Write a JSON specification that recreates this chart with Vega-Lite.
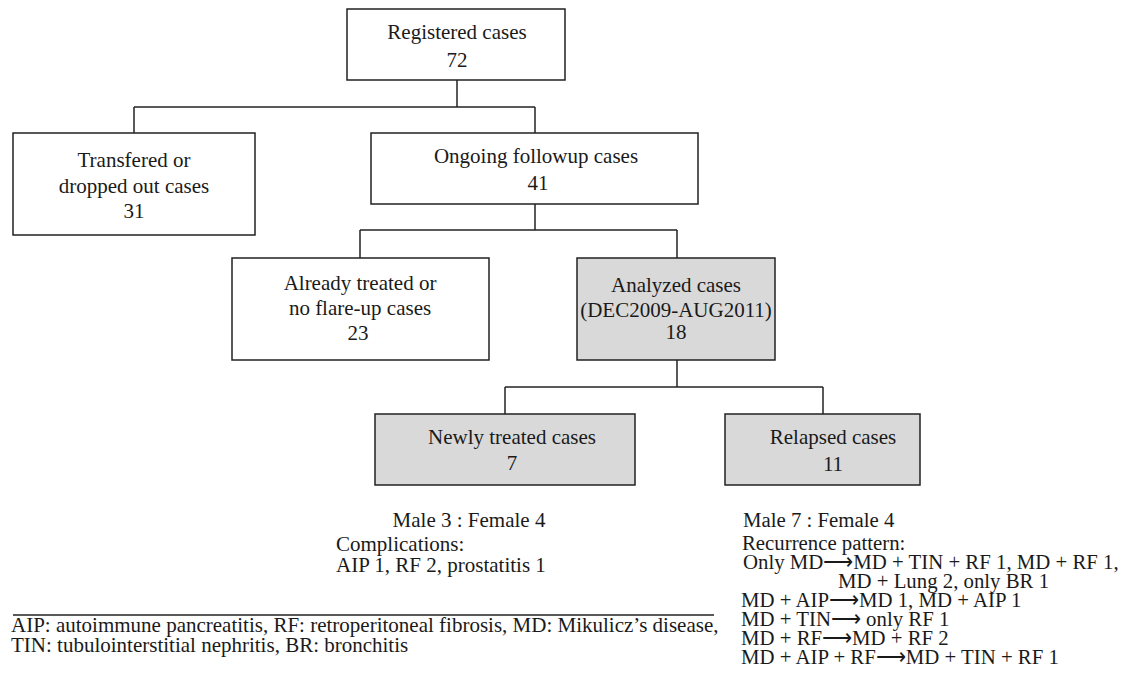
{
  "$schema": "https://vega.github.io/schema/vega-lite/v6.json",
  "width": 1126,
  "height": 691,
  "padding": 0,
  "autosize": {"type": "none"},
  "background": "#ffffff",
  "config": {"view": {"stroke": null}},
  "datasets": {
    "boxes": [
      {"name": "Registered", "x1": 347, "x2": 565, "y1": 9, "y2": 80, "kind": "plain"},
      {"name": "Transfered", "x1": 13, "x2": 255, "y1": 133, "y2": 235, "kind": "plain"},
      {"name": "Ongoing", "x1": 371, "x2": 698, "y1": 133, "y2": 204, "kind": "plain"},
      {"name": "Already", "x1": 232, "x2": 489, "y1": 258, "y2": 360, "kind": "plain"},
      {"name": "Analyzed", "x1": 577, "x2": 775, "y1": 258, "y2": 360, "kind": "shaded"},
      {"name": "Newly", "x1": 375, "x2": 635, "y1": 414, "y2": 485, "kind": "shaded"},
      {"name": "Relapsed", "x1": 725, "x2": 920, "y1": 414, "y2": 485, "kind": "shaded"}
    ],
    "links": [
      {"x1": 457, "x2": 457, "y1": 80, "y2": 107},
      {"x1": 134, "x2": 535, "y1": 107, "y2": 107},
      {"x1": 134, "x2": 134, "y1": 107, "y2": 133},
      {"x1": 535, "x2": 535, "y1": 107, "y2": 133},
      {"x1": 535, "x2": 535, "y1": 204, "y2": 230},
      {"x1": 360, "x2": 677, "y1": 230, "y2": 230},
      {"x1": 360, "x2": 360, "y1": 230, "y2": 258},
      {"x1": 677, "x2": 677, "y1": 230, "y2": 258},
      {"x1": 677, "x2": 677, "y1": 360, "y2": 387},
      {"x1": 505, "x2": 823, "y1": 387, "y2": 387},
      {"x1": 505, "x2": 505, "y1": 387, "y2": 414},
      {"x1": 823, "x2": 823, "y1": 387, "y2": 414},
      {"x1": 13, "x2": 714, "y1": 615, "y2": 615}
    ],
    "labels": [
      {"t": "Registered cases", "x": 457, "y": 39, "a": "c"},
      {"t": "72", "x": 457, "y": 67, "a": "c"},
      {"t": "Transfered or", "x": 134, "y": 167, "a": "c"},
      {"t": "dropped out cases", "x": 134, "y": 193, "a": "c"},
      {"t": "31", "x": 134, "y": 218, "a": "c"},
      {"t": "Ongoing followup cases", "x": 536, "y": 163, "a": "c"},
      {"t": "41", "x": 538, "y": 190, "a": "c"},
      {"t": "Already treated or", "x": 360, "y": 290, "a": "c"},
      {"t": "no flare-up cases", "x": 360, "y": 315, "a": "c"},
      {"t": "23", "x": 358, "y": 340, "a": "c"},
      {"t": "Analyzed cases", "x": 676, "y": 292, "a": "c"},
      {"t": "(DEC2009-AUG2011)", "x": 676, "y": 317, "a": "c"},
      {"t": "18", "x": 676, "y": 339, "a": "c"},
      {"t": "Newly treated cases", "x": 512, "y": 444, "a": "c"},
      {"t": "7", "x": 512, "y": 470, "a": "c"},
      {"t": "Relapsed cases", "x": 833, "y": 444, "a": "c"},
      {"t": "11", "x": 833, "y": 471, "a": "c"},
      {"t": "Male 3 : Female 4", "x": 469, "y": 527, "a": "c"},
      {"t": "Complications:", "x": 336, "y": 551, "a": "l"},
      {"t": "AIP 1, RF 2, prostatitis 1", "x": 336, "y": 572, "a": "l"},
      {"t": "Male 7 : Female 4", "x": 743, "y": 527, "a": "r"},
      {"t": "Recurrence pattern:", "x": 742, "y": 550, "a": "r"},
      {"t": "Only MD⟶MD + TIN + RF 1, MD + RF 1,", "x": 743, "y": 569, "a": "r"},
      {"t": "MD + Lung 2, only BR 1", "x": 838, "y": 588, "a": "r"},
      {"t": "MD + AIP⟶MD 1, MD + AIP 1", "x": 741, "y": 607, "a": "r"},
      {"t": "MD + TIN⟶ only RF 1", "x": 741, "y": 626, "a": "r"},
      {"t": "MD + RF⟶MD + RF 2", "x": 741, "y": 645, "a": "r"},
      {"t": "MD + AIP + RF⟶MD + TIN + RF 1", "x": 741, "y": 664, "a": "r"},
      {"t": "AIP: autoimmune pancreatitis, RF: retroperitoneal fibrosis, MD: Mikulicz’s disease,", "x": 11, "y": 632, "a": "l"},
      {"t": "TIN: tubulointerstitial nephritis, BR: bronchitis", "x": 11, "y": 652, "a": "l"}
    ]
  },
  "layer": [
    {
      "data": {"name": "boxes"},
      "mark": {"type": "rect", "stroke": "#222222", "strokeWidth": 1.5},
      "encoding": {
        "x": {"field": "x1", "type": "quantitative", "scale": {"domain": [0, 1126], "nice": false, "zero": false}, "axis": null},
        "x2": {"field": "x2"},
        "y": {"field": "y1", "type": "quantitative", "scale": {"domain": [0, 691], "nice": false, "zero": false, "reverse": true}, "axis": null},
        "y2": {"field": "y2"},
        "fill": {"field": "kind", "type": "nominal", "scale": {"domain": ["plain", "shaded"], "range": ["#ffffff", "#d9d9d9"]}, "legend": null}
      }
    },
    {
      "data": {"name": "links"},
      "mark": {"type": "rule", "color": "#222222", "strokeWidth": 1.5},
      "encoding": {
        "x": {"field": "x1", "type": "quantitative", "scale": {"domain": [0, 1126], "nice": false, "zero": false}, "axis": null},
        "x2": {"field": "x2"},
        "y": {"field": "y1", "type": "quantitative", "scale": {"domain": [0, 691], "nice": false, "zero": false, "reverse": true}, "axis": null},
        "y2": {"field": "y2"}
      }
    },
    {
      "data": {"name": "labels"},
      "transform": [{"filter": "datum.a === 'c'"}],
      "mark": {"type": "text", "align": "center", "baseline": "alphabetic", "font": "Liberation Serif", "fontSize": 21, "color": "#1a1a1a"},
      "encoding": {
        "x": {"field": "x", "type": "quantitative", "scale": {"domain": [0, 1126], "nice": false, "zero": false}, "axis": null},
        "y": {"field": "y", "type": "quantitative", "scale": {"domain": [0, 691], "nice": false, "zero": false, "reverse": true}, "axis": null},
        "text": {"field": "t"}
      }
    },
    {
      "data": {"name": "labels"},
      "transform": [{"filter": "datum.a === 'l'"}],
      "mark": {"type": "text", "align": "left", "baseline": "alphabetic", "font": "Liberation Serif", "fontSize": 21, "color": "#1a1a1a"},
      "encoding": {
        "x": {"field": "x", "type": "quantitative", "scale": {"domain": [0, 1126], "nice": false, "zero": false}, "axis": null},
        "y": {"field": "y", "type": "quantitative", "scale": {"domain": [0, 691], "nice": false, "zero": false, "reverse": true}, "axis": null},
        "text": {"field": "t"}
      }
    },
    {
      "data": {"name": "labels"},
      "transform": [{"filter": "datum.a === 'r'"}],
      "mark": {"type": "text", "align": "left", "baseline": "alphabetic", "font": "Liberation Serif", "fontSize": 20.8, "color": "#1a1a1a"},
      "encoding": {
        "x": {"field": "x", "type": "quantitative", "scale": {"domain": [0, 1126], "nice": false, "zero": false}, "axis": null},
        "y": {"field": "y", "type": "quantitative", "scale": {"domain": [0, 691], "nice": false, "zero": false, "reverse": true}, "axis": null},
        "text": {"field": "t"}
      }
    }
  ]
}
